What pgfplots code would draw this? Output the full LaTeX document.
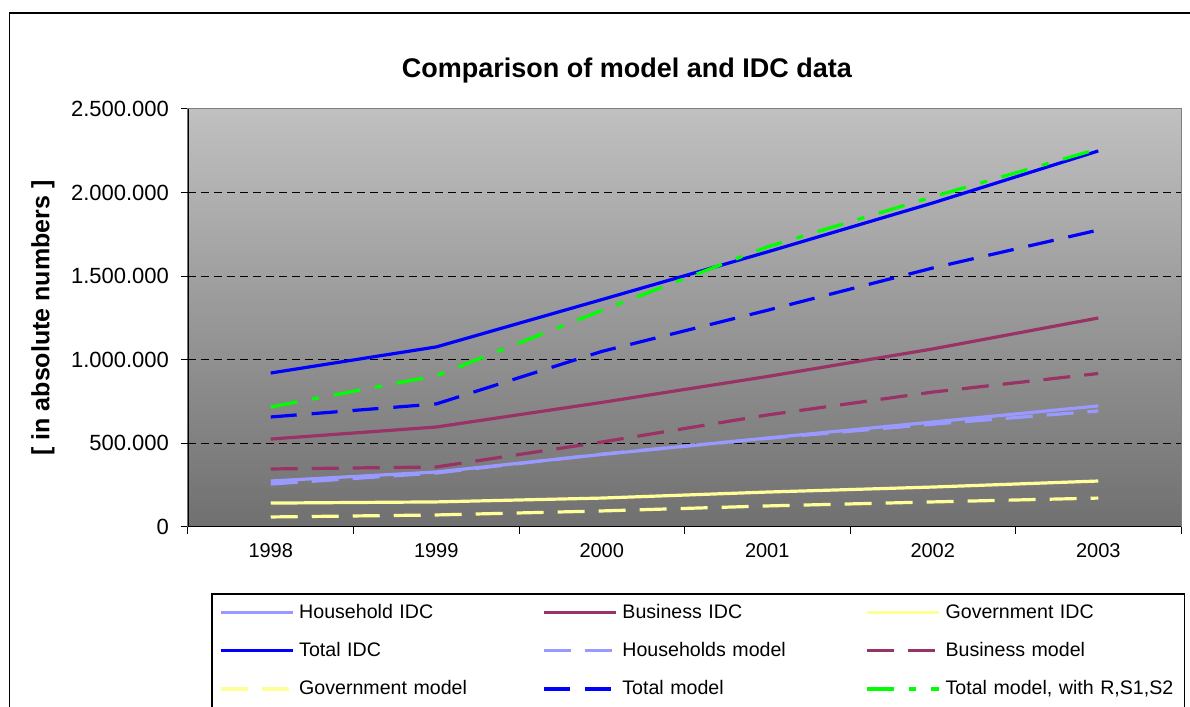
\documentclass[border=0pt]{standalone}
\usepackage{pgfplots}
\pgfplotsset{compat=1.18}
\usepackage{fontspec}
\setmainfont{Liberation Sans}

\definecolor{hhcol}{HTML}{9999FF}
\definecolor{buscol}{HTML}{993366}
\definecolor{govcol}{HTML}{FFFF99}
\definecolor{totcol}{HTML}{0000FF}
\definecolor{grncol}{HTML}{00FF00}
\definecolor{bgtop}{RGB}{192,192,192}
\definecolor{bgbot}{RGB}{112,112,112}
\definecolor{framegray}{RGB}{128,128,128}

\begin{document}
\begin{tikzpicture}
\useasboundingbox (0,0) rectangle (595pt,353.5pt);
% outer chart frame
\draw[line width=0.6pt] (4.75pt,-5pt) -- (4.75pt,347pt) -- (600pt,347pt);
\begin{axis}[
  at={(94pt,90pt)}, anchor=south west,
  scale only axis, width=496.5pt, height=209pt,
  xmin=-0.5, xmax=5.5, ymin=0, ymax=2500000,
  axis background/.style={top color=bgtop, bottom color=bgbot},
  axis line style={draw=framegray, line width=0.5pt},
  scaled y ticks=false,
  tick align=outside, major tick length=3.5pt,
  tick style={black, line width=0.5pt},
  ytick={0,500000,1000000,1500000,2000000,2500000},
  yticklabels={0,500.000,1.000.000,1.500.000,2.000.000,2.500.000},
  ytick pos=left,
  yticklabel style={font=\fontsize{11}{13}\selectfont, xshift=-2.5pt},
  extra y ticks={500000,1000000,1500000,2000000},
  extra y tick labels={},
  extra y tick style={grid=major, major grid style={black, line width=0.5pt, dash pattern=on 4pt off 2.5pt}},
  xtick={-0.5,0.5,1.5,2.5,3.5,4.5,5.5},
  xticklabels={},
  xtick pos=bottom,
  extra x ticks={0,1,2,3,4,5},
  extra x tick labels={1998,1999,2000,2001,2002,2003},
  extra x tick style={major tick length=0pt},
  xticklabel style={font=\fontsize{10}{12}\selectfont, yshift=-4.5pt},
  title={Comparison of model and IDC data},
  title style={at={(axis description cs:0.442,1.064)}, anchor=center,
    font=\bfseries\fontsize{13.5}{16}\selectfont},
  ylabel={{[ in absolute numbers ]}},
  ylabel style={at={(axis description cs:-0.146,0.5)}, anchor=center,
    font=\bfseries\fontsize{12.5}{15}\selectfont},
  legend columns=3,
  legend image code/.code={\draw[#1] (0pt,0pt) -- (36pt,0pt);},
  legend style={at={(axis description cs:0.0242,-0.1603)}, anchor=north west,
    draw=black, line width=0.6pt, fill=white,
    inner xsep=3.5pt, inner ysep=4.5pt, outer sep=0pt,
    font=\fontsize{9.8}{12}\selectfont, row sep=9.6pt,
    /tikz/every odd column/.style={column sep=2.5pt},
    /tikz/every even column/.style={column sep=5.5pt},
    nodes={inner sep=0pt, text width=116pt, text height=7.5pt, text depth=2pt, align=left}},
  every axis plot/.append style={line width=1.6pt, line join=round},
]
% Household IDC
\addplot[hhcol] coordinates {(0,275000) (1,329000) (2,434000) (3,532000) (4,628000) (5,724000)};
\addlegendentry{Household IDC}
% Business IDC
\addplot[buscol] coordinates {(0,526000) (1,598000) (2,745000) (3,900000) (4,1065000) (5,1250000)};
\addlegendentry{Business IDC}
% Government IDC
\addplot[govcol] coordinates {(0,143000) (1,150000) (2,173000) (3,209000) (4,239000) (5,275000)};
\addlegendentry{Government IDC}
% Total IDC
\addplot[totcol] coordinates {(0,921000) (1,1077000) (2,1360000) (3,1645000) (4,1938000) (5,2249000)};
\addlegendentry{Total IDC}
% Households model
\addplot[hhcol, dash pattern=on 13.5pt off 7pt] coordinates {(0,257000) (1,323000) (2,436000) (3,530000) (4,615000) (5,694000)};
\addlegendentry{Households model}
% Business model
\addplot[buscol, dash pattern=on 13.5pt off 7pt] coordinates {(0,347000) (1,359000) (2,508000) (3,670000) (4,807000) (5,918000)};
\addlegendentry{Business model}
% Government model
\addplot[govcol, dash pattern=on 13.5pt off 7pt] coordinates {(0,60000) (1,72000) (2,96000) (3,126000) (4,150000) (5,173000)};
\addlegendentry{Government model}
% Total model
\addplot[totcol, dash pattern=on 13pt off 7.5pt] coordinates {(0,658000) (1,736000) (2,1050000) (3,1296000) (4,1549000) (5,1776000)};
\addlegendentry{Total model}
% Total model with R, S1, S2
\addplot[grncol, dash pattern=on 13.5pt off 7.5pt on 3.5pt off 7.5pt] coordinates {(0,718000) (1,905000) (2,1295000) (3,1675000) (4,1975000) (5,2261000)};
\addlegendentry{Total model, with R,S1,S2}
% black value and category axes over the grey frame
\draw[black, line width=0.6pt] (rel axis cs:0,1) -- (rel axis cs:0,0) -- (rel axis cs:1,0);
\end{axis}
\end{tikzpicture}
\end{document}
